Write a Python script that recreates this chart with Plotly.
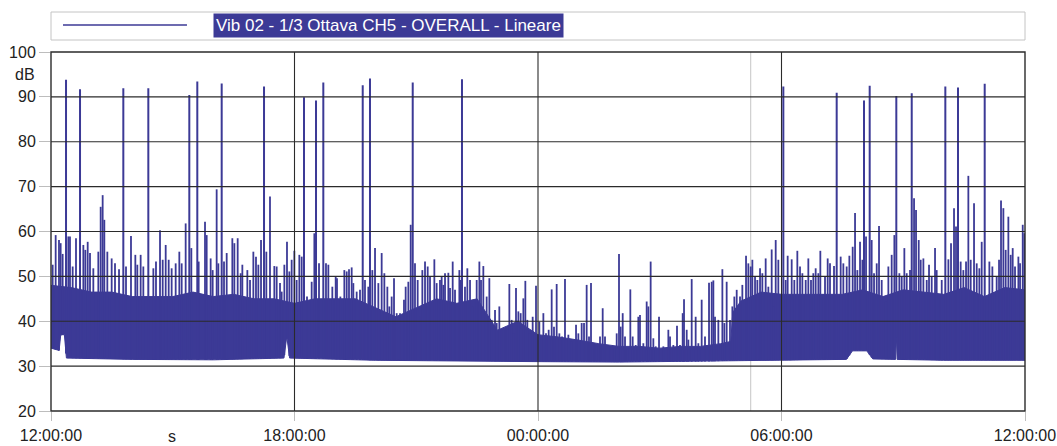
import numpy as np
import plotly.graph_objects as go

# Time axis: hours elapsed since 12:00:00 (24 h record)
tick_hours = [0, 6, 12, 18, 24]
tick_labels = ["12:00:00", "18:00:00", "00:00:00", "06:00:00", "12:00:00"]
db_ticks = [20, 30, 40, 50, 60, 70, 80, 90, 100]

series_name = "Vib 02 - 1/3 Ottava CH5 - OVERALL - Lineare"

# Lower edge of the level trace (background floor)
floor_h = [0.00, 0.20, 0.24, 0.33, 0.38, 2.00, 4.00, 5.74, 5.81, 5.88, 8.00, 10.00,
           12.00, 14.00, 16.00, 17.24, 18.00, 19.60, 19.75, 20.10, 20.25, 20.81,
           20.83, 20.85, 22.00, 24.00]
floor_db = [34.0, 33.5, 37.0, 37.0, 31.8, 31.5, 31.4, 31.8, 36.6, 31.8, 31.3, 31.2,
            31.0, 30.9, 31.0, 31.3, 31.3, 31.5, 33.4, 33.4, 31.6, 31.5,
            36.6, 31.5, 31.3, 31.3]

# Upper edge of the dense part of the trace
body_h = [0.0, 0.5, 1.0, 1.5, 2.0, 2.5, 3.0, 3.5, 4.0, 4.5, 5.0, 5.5, 6.0, 6.5, 7.0,
          7.5, 8.0, 8.5, 9.0, 9.5, 10.0, 10.5, 11.0, 11.5, 12.0, 12.5, 13.0, 13.5,
          14.0, 14.5, 15.0, 15.5, 16.0, 16.5, 16.75, 16.8, 17.0, 17.5, 18.0, 18.5,
          19.0, 19.5, 20.0, 20.5, 21.0, 21.5, 22.0, 22.5, 23.0, 23.5, 24.0]
body_db = [48.0, 47.5, 46.5, 46.5, 45.5, 45.5, 45.5, 46.5, 45.5, 46.0, 45.0, 45.0, 44.0,
           45.0, 45.0, 45.0, 43.0, 41.0, 43.0, 45.0, 44.0, 45.0, 38.0, 40.0, 37.0, 36.5,
           35.8, 35.0, 34.4, 34.4, 34.0, 34.4, 34.4, 35.0, 35.5, 42.0, 44.5, 46.5, 46.0,
           46.0, 46.0, 46.0, 47.0, 45.5, 47.0, 46.5, 46.0, 47.5, 45.5, 47.5, 47.0]

# Individual level peaks
peak_h = [
    0.041, 0.115, 0.197, 0.238, 0.287, 0.427, 0.468, 0.534, 0.616, 0.797,
    0.846, 0.904, 0.961, 1.043, 1.166, 1.224, 1.273, 1.314, 1.388, 1.495,
    1.577, 1.676, 1.848, 1.971, 2.078, 2.127, 2.209, 2.275, 2.522, 2.587,
    2.686, 2.752, 2.826, 2.900, 2.973, 3.072, 3.162, 3.220, 3.318, 3.458,
    3.639, 3.795, 3.836, 3.934, 3.984, 4.082, 4.123, 4.263, 4.329, 4.468,
    4.518, 4.600, 4.674, 4.715, 4.838,
    4.904, 4.986, 5.051, 5.109, 5.175, 5.306, 5.396, 5.503, 5.561, 5.643,
    5.684, 5.750, 5.815, 5.873, 5.930, 5.996, 6.053, 6.119, 6.177, 6.308,
    6.423, 6.489, 6.604, 6.776, 6.834, 6.932, 7.015, 7.047, 7.130, 7.228,
    7.286, 7.343, 7.409, 7.450, 7.532, 7.614, 7.737, 7.819, 7.918, 7.984,
    8.066, 8.148, 8.214, 8.288, 8.337, 8.394, 8.452, 8.518, 8.600, 8.698,
    8.739, 8.805, 8.863, 8.969, 9.035, 9.093, 9.150, 9.216, 9.282, 9.339,
    9.446, 9.503, 9.585,
    9.626, 9.667, 9.709, 9.791, 9.832, 9.898, 9.955, 10.062, 10.095, 10.201,
    10.259, 10.325, 10.390, 10.489, 10.555, 10.596, 10.653, 10.735, 10.801, 10.859,
    10.941, 10.982, 11.047, 11.113, 11.187, 11.245, 11.294, 11.351, 11.392, 11.458,
    11.516, 11.573, 11.639, 11.688, 11.737, 11.787, 11.869, 11.951, 12.033, 12.132,
    12.197, 12.263, 12.337, 12.394, 12.460, 12.526, 12.592, 12.665, 12.748, 12.830,
    12.937, 12.994, 13.076, 13.134, 13.199, 13.257, 13.306, 13.380, 13.446, 13.528,
    13.594, 13.651, 13.733, 13.816, 13.881, 13.939, 13.996, 14.037, 14.087, 14.144,
    14.201, 14.275, 14.333, 14.407, 14.472,
    14.513, 14.596, 14.678, 14.719, 14.776, 14.842, 14.900, 14.982, 15.089, 15.212,
    15.253, 15.335, 15.425, 15.499, 15.565, 15.598, 15.664, 15.705, 15.787, 15.885,
    15.951, 16.033, 16.115, 16.214, 16.280, 16.321, 16.362, 16.444, 16.543, 16.592,
    16.649, 16.731, 16.789, 16.838, 16.896, 16.978, 17.035, 17.126, 17.183, 17.241,
    17.282, 17.348, 17.405, 17.471, 17.528, 17.610, 17.676, 17.758, 17.799, 17.857,
    17.922, 18.103, 18.152, 18.210, 18.251, 18.316, 18.390, 18.456, 18.514, 18.596,
    18.661, 18.727, 18.784, 18.842, 18.908, 18.957, 19.031, 19.072, 19.138, 19.195,
    19.294, 19.458, 19.524, 19.606, 19.672, 19.754, 19.812, 19.869, 19.935, 19.993,
    20.083, 20.222, 20.280, 20.346, 20.403, 20.469, 20.568, 20.633, 20.715, 20.781,
    20.904, 20.962, 21.027, 21.085, 21.167, 21.266, 21.315, 21.381, 21.430, 21.496,
    21.578, 21.635, 21.701, 21.783, 21.824, 21.882, 21.948, 22.112, 22.177, 22.251,
    22.300, 22.415, 22.481, 22.547, 22.604, 22.662, 22.744, 22.810, 22.875, 22.933,
    23.056, 23.122, 23.196, 23.245, 23.302, 23.360, 23.409, 23.467, 23.524, 23.590,
    23.648, 23.697, 23.754, 23.837, 23.878, 23.944, 23.985,
]
peak_db = [
    52.6, 59.2, 58.1, 57.4, 55.0, 58.9, 58.9, 52.2, 58.5, 57.0,
    55.9, 57.7, 55.2, 51.8, 55.5, 65.5, 68.1, 62.6, 55.5, 54.0,
    52.9, 51.6, 52.2, 59.0, 54.8, 52.6, 54.8, 52.2, 51.8, 53.3,
    60.3, 53.7, 57.0, 53.7, 51.8, 52.9, 55.5, 52.9, 61.8, 56.3,
    53.3, 62.2, 59.2, 54.0, 51.4, 69.4, 52.9, 53.3, 55.2, 58.5,
    57.4, 58.5, 50.7, 52.6, 51.4,
    49.2, 55.5, 54.4, 52.6, 58.1, 55.5, 67.8, 52.3, 52.2, 48.5,
    46.6, 52.6, 57.7, 51.1, 53.7, 55.7, 49.2, 54.8, 54.4, 45.5,
    48.8, 59.6, 52.9, 52.9, 52.6, 47.7, 50.0, 49.6, 45.5, 51.4,
    51.1, 51.6, 52.0, 48.5, 46.6, 47.0, 49.2, 47.7, 51.4, 56.3,
    48.5, 55.2, 50.7, 47.7, 43.3, 45.5, 49.6, 41.8, 41.8, 44.8,
    47.7, 48.8, 61.5, 52.9, 49.2, 41.0, 51.4, 53.3, 52.2, 50.0,
    53.8, 48.5, 49.2,
    50.0, 48.1, 50.7, 50.8, 47.4, 53.3, 47.0, 51.4, 49.2, 47.7,
    51.8, 49.2, 43.3, 49.2, 53.3, 49.2, 52.3, 45.5, 49.6, 40.3,
    42.5, 39.6, 43.3, 38.1, 38.1, 38.8, 48.3, 40.3, 37.3, 47.4,
    42.2, 41.8, 45.1, 49.0, 40.3, 37.3, 41.0, 47.9, 39.9, 41.8,
    37.3, 38.1, 47.1, 38.8, 48.3, 37.3, 36.6, 49.4, 37.0, 35.5,
    39.2, 37.3, 39.6, 39.6, 48.1, 36.6, 48.5, 35.1, 34.7, 36.6,
    42.9, 36.6, 34.7, 34.4, 34.0, 37.3, 55.0, 38.8, 41.8, 36.6,
    34.0, 47.1, 36.6, 34.7, 41.0,
    41.4, 35.1, 44.4, 43.3, 53.3, 36.2, 34.4, 41.0, 34.4, 38.1,
    36.6, 34.7, 39.0, 34.7, 41.8, 44.9, 38.1, 35.9, 49.4, 41.0,
    35.1, 44.8, 36.6, 48.6, 48.8, 49.1, 41.0, 40.3, 51.6, 39.6,
    48.8, 40.3, 43.3, 45.5, 47.0, 45.5, 48.1, 54.6, 52.9, 52.2,
    53.7, 50.0, 49.2, 51.8, 50.7, 54.0, 47.7, 56.0, 43.3, 58.1,
    53.7, 49.2, 54.6, 42.5, 53.8, 49.2, 55.7, 52.2, 50.7, 49.2,
    54.0, 49.2, 50.7, 51.8, 50.7, 55.7, 45.9, 50.0, 54.0, 52.9,
    52.3, 54.4, 52.9, 52.2, 54.6, 56.6, 64.1, 51.4, 57.7, 53.7,
    58.9, 58.1, 50.7, 52.9, 61.2, 49.2, 44.4, 52.2, 54.8, 59.2,
    50.7, 50.0, 56.3, 50.7, 51.4, 67.4, 64.8, 58.1, 53.7, 54.0,
    49.2, 52.6, 50.0, 56.3, 51.4, 45.1, 49.2, 53.8, 57.4, 65.2,
    61.1, 53.3, 51.4, 53.3, 72.4, 53.7, 66.3, 52.9, 51.8, 57.7,
    42.5, 53.3, 52.2, 45.9, 50.0, 53.7, 66.9, 65.2, 55.9, 63.3,
    54.8, 56.3, 52.2, 54.4, 52.9, 61.5, 59.6,
]

# Isolated high-level events
spike_h = [0.370, 0.715, 1.782, 2.398, 3.408, 3.605, 4.206, 5.249, 6.234, 6.530,
           6.710, 7.681, 7.860, 8.913, 10.127, 18.045, 19.360, 20.033, 20.173,
           20.829, 21.209, 22.037, 22.349, 23.007]
spike_db = [93.8, 91.7, 91.9, 91.9, 90.4, 93.4, 93.0, 92.3, 89.9, 89.2,
            93.2, 92.6, 94.1, 93.2, 93.9, 92.3, 90.9, 89.2, 92.5,
            90.2, 90.8, 92.3, 92.1, 92.9]

cursor_h = 17.24

assert len(peak_h) == len(peak_db)
assert len(spike_h) == len(spike_db)

TRACE = "#3c3a96"
GRID = "#2b2b2b"
FONT = "Liberation Sans, Arial, Helvetica, sans-serif"


def vertical_segments(hours, tops):
    """Vertical strokes from the floor of the trace up to each value."""
    xs, ys = [], []
    for h, top in zip(hours, tops):
        base = float(np.interp(h, floor_h, floor_db))
        xs += [h, h, None]
        ys += [base, top, None]
    return xs, ys


fig = go.Figure()

# dense band between floor and body
fig.add_trace(go.Scatter(
    x=body_h + floor_h[::-1], y=body_db + floor_db[::-1],
    mode="lines", fill="toself", fillcolor=TRACE,
    line=dict(color=TRACE, width=1), hoverinfo="skip", showlegend=False))

px, py = vertical_segments(peak_h, peak_db)
fig.add_trace(go.Scatter(x=px, y=py, mode="lines",
                         line=dict(color=TRACE, width=1.8),
                         hoverinfo="skip", showlegend=False))

sx, sy = vertical_segments(spike_h, spike_db)
fig.add_trace(go.Scatter(x=sx, y=sy, mode="lines",
                         line=dict(color=TRACE, width=2),
                         hoverinfo="skip", showlegend=False))

shapes = []
# cursor line
shapes.append(dict(type="line", xref="x", yref="paper", x0=cursor_h, x1=cursor_h,
                   y0=0, y1=1, line=dict(color="#cfcfcf", width=1.2), layer="below"))
# grid drawn over the trace
for h in tick_hours[1:-1]:
    shapes.append(dict(type="line", xref="x", yref="paper", x0=h, x1=h, y0=0, y1=1,
                       line=dict(color=GRID, width=1.1), layer="above"))
for d in db_ticks[1:-1]:
    shapes.append(dict(type="line", xref="paper", yref="y", x0=0, x1=1, y0=d, y1=d,
                       line=dict(color=GRID, width=1.1), layer="above"))
# plot frame
shapes.append(dict(type="rect", xref="paper", yref="paper", x0=0, x1=1, y0=0, y1=1,
                   line=dict(color=GRID, width=1.4), layer="above"))
# legend frame and sample line
shapes.append(dict(type="rect", xref="paper", yref="paper", x0=0, x1=1,
                   y0=1.0334, y1=1.1114, line=dict(color="#c4c4c4", width=1)))
shapes.append(dict(type="line", xref="paper", yref="paper", x0=0.0123, x1=0.1396,
                   y0=1.0752, y1=1.0752, line=dict(color=TRACE, width=1.6)))

annotations = [
    dict(text=series_name, xref="paper", yref="paper", x=0.1663, y=1.0752,
         xanchor="left", yanchor="middle", showarrow=False, bgcolor=TRACE,
         borderpad=2, font=dict(family=FONT, size=17, color="white")),
    dict(text="dB", xref="paper", yref="paper", x=-0.0144, y=0.936,
         xanchor="right", yanchor="middle", showarrow=False,
         font=dict(family=FONT, size=16, color="#222")),
    dict(text="s", xref="paper", yref="paper", x=0.1242, y=-0.072,
         xanchor="center", yanchor="middle", showarrow=False,
         font=dict(family=FONT, size=16, color="#222")),
]

fig.update_layout(
    width=1057, height=446,
    margin=dict(l=51, r=32, t=52, b=35),
    paper_bgcolor="white", plot_bgcolor="white",
    showlegend=False, hovermode=False,
    shapes=shapes, annotations=annotations,
    font=dict(family=FONT, size=16, color="#222"),
)
fig.update_xaxes(range=[0, 24], tickvals=tick_hours, ticktext=tick_labels,
                 showgrid=False, zeroline=False, showline=False, automargin=False,
                 ticks="outside", ticklen=9, tickcolor="#bdbdbd", tickwidth=1,
                 ticklabelstandoff=1, tickfont=dict(family=FONT, size=16, color="#222"))
fig.update_yaxes(range=[20, 100], tickvals=db_ticks, showgrid=False, zeroline=False,
                 showline=False, automargin=False, ticks="outside", ticklen=11,
                 tickcolor="#bdbdbd", tickwidth=1,
                 tickfont=dict(family=FONT, size=16, color="#222"))

fig.write_html("out.html")
